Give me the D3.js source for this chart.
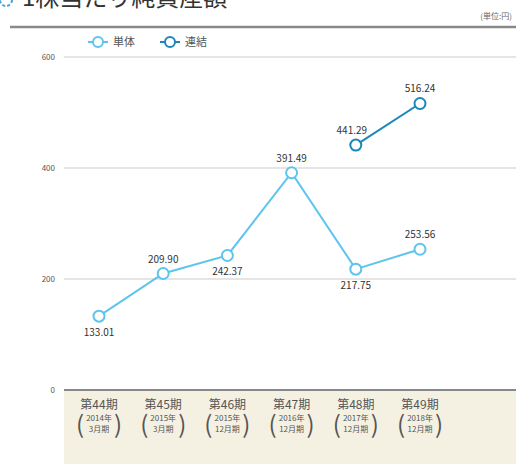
<!DOCTYPE html>
<html>
<head>
<meta charset="utf-8">
<script src="https://cdn.jsdelivr.net/npm/d3@7"></script>
<style>
  body { margin: 0; background: #fff; }
  svg text { font-family: "Noto Sans CJK JP", "Noto Sans", sans-serif; }
</style>
</head>
<body>
<svg id="chart" width="516" height="464"></svg>
<script>
// data
const periods = ['第44期', '第45期', '第46期', '第47期', '第48期', '第49期'];
const years = ['2014年', '2015年', '2015年', '2016年', '2017年', '2018年'];
const months = ['3月期', '3月期', '12月期', '12月期', '12月期', '12月期'];
const tanTai = [133.01, 209.90, 242.37, 391.49, 217.75, 253.56];
const renketsu = [null, null, null, null, 441.29, 516.24];
const yTicks = [0, 200, 400, 600];
// where each value label sits: 1 = above, -1 = below
const tanPos = [-1, 1, -1, 1, -1, 1];

const svg = d3.select('#chart');
const plotL = 64, plotR = 516, plotT = 57, plotB = 390;

const x = d3.scalePoint().domain(periods).range([99, 420]);
const y = d3.scaleLinear().domain([0, 600]).range([plotB, plotT]);

const cTan = '#5cc4ee';
const cRen = '#1b86bb';

// title (cut off at the top)
svg.append('circle').attr('cx', 6).attr('cy', 0).attr('r', 6)
    .attr('fill', 'none').attr('stroke', '#4aa3d8').attr('stroke-width', 2).attr('stroke-dasharray', '3,2');
svg.append('text').attr('x', 22).attr('y', 6).text('1株当たり純資産額')
    .style('font-size', '24px').style('fill', '#333');

svg.append('text').attr('x', 512).attr('y', 19).attr('text-anchor', 'end')
    .text('(単位:円)').style('font-size', '8px').style('fill', '#666');

svg.append('line').attr('x1', 10).attr('x2', 516).attr('y1', 27).attr('y2', 27)
    .attr('stroke', '#8a8a8a').attr('stroke-width', 2.5);

// beige band under the axis
svg.append('rect').attr('x', plotL).attr('y', plotB + 1)
    .attr('width', plotR - plotL).attr('height', 464 - plotB)
    .attr('fill', '#f4f1e3');

// grid
svg.selectAll('.grid')
    .data(yTicks)
    .enter()
    .append('line')
    .attr('x1', plotL)
    .attr('x2', plotR)
    .attr('y1', d => y(d))
    .attr('y2', d => y(d))
    .attr('stroke', d => d === 0 ? '#888' : '#ddd')
    .attr('stroke-width', d => d === 0 ? 2 : 1.5);

svg.selectAll('.ytick')
    .data(yTicks)
    .enter()
    .append('text')
    .attr('x', 55)
    .attr('y', d => y(d))
    .attr('dy', '0.35em')
    .attr('text-anchor', 'end')
    .text(d => d)
    .style('font-size', '8px')
    .style('fill', '#555');

// x labels
const xl = svg.selectAll('.xl')
    .data(periods)
    .enter()
    .append('g')
    .attr('transform', d => `translate(${x(d)},0)`);
xl.append('text').attr('y', 409).attr('text-anchor', 'middle')
    .text(d => d).style('font-size', '12px').style('fill', '#555');
xl.append('text').attr('y', 421).attr('text-anchor', 'middle')
    .text((d, i) => years[i]).style('font-size', '8px').style('fill', '#555');
xl.append('text').attr('y', 432).attr('text-anchor', 'middle')
    .text((d, i) => months[i]).style('font-size', '8px').style('fill', '#555');
xl.append('text').attr('x', -19).attr('y', 433).attr('text-anchor', 'middle')
    .text('(').style('font-size', '24px').style('fill', '#555');
xl.append('text').attr('x', 19).attr('y', 433).attr('text-anchor', 'middle')
    .text(')').style('font-size', '24px').style('fill', '#555');

// lines
const line = d3.line()
    .defined(d => d != null)
    .x((d, i) => x(periods[i]))
    .y(d => y(d));

function drawSeries(vals, color, pos) {
    svg.append('path')
        .datum(vals)
        .attr('d', line)
        .attr('fill', 'none')
        .attr('stroke', color)
        .attr('stroke-width', 2);

    const pts = vals.map((v, i) => ({ v, i })).filter(d => d.v != null);
    svg.selectAll(null)
        .data(pts)
        .enter()
        .append('circle')
        .attr('cx', d => x(periods[d.i]))
        .attr('cy', d => y(d.v))
        .attr('r', 5.5)
        .attr('fill', '#fff')
        .attr('stroke', color)
        .attr('stroke-width', 2);

    svg.selectAll(null)
        .data(pts)
        .enter()
        .append('text')
        .attr('x', d => x(periods[d.i]) + (vals === renketsu && d.i === 4 ? -4 : 0))
        .attr('y', d => y(d.v) + (pos[d.i] > 0 ? -11 : 20))
        .attr('text-anchor', 'middle')
        .text(d => d.v.toFixed(2))
        .style('font-size', '10px')
        .style('fill', '#333');
}

drawSeries(tanTai, cTan, tanPos);
drawSeries(renketsu, cRen, [1, 1, 1, 1, 1, 1]);

// legend
const legend = [['単体', cTan, 88], ['連結', cRen, 160]];
legend.forEach(([name, color, lx]) => {
    svg.append('line').attr('x1', lx).attr('x2', lx + 20).attr('y1', 42).attr('y2', 42)
        .attr('stroke', color).attr('stroke-width', 2);
    svg.append('circle').attr('cx', lx + 10).attr('cy', 42).attr('r', 5)
        .attr('fill', '#fff').attr('stroke', color).attr('stroke-width', 2);
    svg.append('text').attr('x', lx + 25).attr('y', 42).attr('dy', '0.35em')
        .text(name).style('font-size', '11px').style('fill', '#555');
});
</script>
</body>
</html>
